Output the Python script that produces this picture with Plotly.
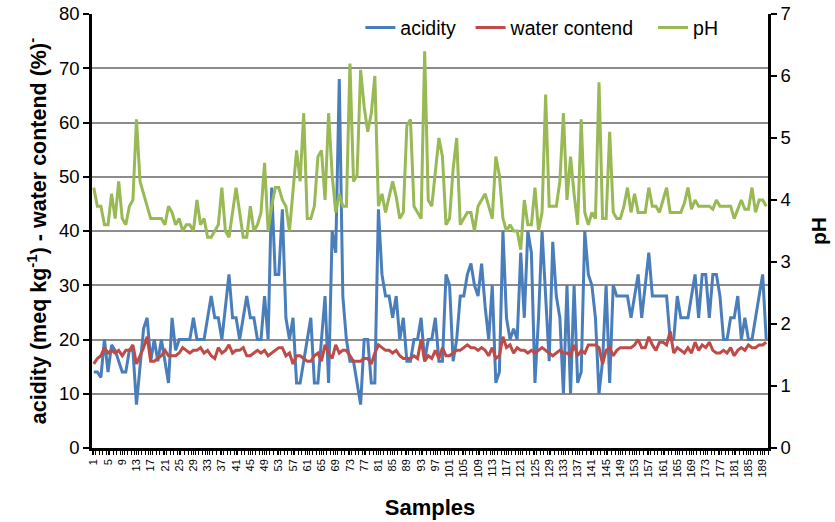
import plotly.graph_objects as go

samples = list(range(1, 191))

acidity = [14,14,13,20,14,19,18,16,14,14,18,18,8,15,22,24,16,20,16,20,16,12,24,18,20,20,20,20,24,20,20,20,
           24,28,24,24,20,26,32,24,24,20,24,28,24,24,20,20,28,20,48,32,32,44,24,20,24,12,12,16,20,24,12,
           12,20,28,12,40,36,68,28,20,16,16,12,8,20,20,12,12,44,32,28,28,24,28,20,24,16,16,20,20,24,16,
           20,20,24,16,16,32,30,16,20,28,28,32,34,30,28,34,26,20,30,12,14,40,24,20,22,20,36,24,40,36,12,24,40,
           28,16,38,28,24,10,30,10,30,12,14,40,32,30,24,10,16,30,12,30,28,28,28,28,24,28,32,24,30,36,28,
           28,28,28,28,20,20,28,24,24,24,28,32,24,32,32,24,32,32,28,20,20,24,24,28,20,24,20,20,24,28,32,20]

water = [15.5,16.5,17,18.5,17.5,18,17.5,18,17,18,18,19,15.5,17,18.5,20.5,16,16,16.5,17,18,17,17,17,17.5,18.5,18,17.5,18,18,18.5,17.5,
         18,17,16.5,18.5,17.5,18,19,17.5,18,18,18.5,17,17,17.5,18,17.5,18,17,17.5,18,18.5,18.5,17,17.5,15.5,17,17,16.5,16,16,17,
         17.5,16,19,17.5,16.5,19,17.5,18,18,17,16,16,16,16.5,16.5,15.5,17.5,19,18.5,18,18,17.5,18,17,16.5,16.5,16.5,17,16.5,20,16,17,
         16.5,18,16.5,18.5,17,17,17.5,18,18,18.5,19,18.5,18.5,18,18.5,18,17,18.5,16.5,17,20.5,18.5,19,17.5,18.5,18,18,17.5,18,17.5,18,18.5,
         18,17.5,17,17.5,18,17.5,17.5,17,19,17,18,17.5,19,19,19,18.5,15.5,18,18.5,17,18,18.5,18.5,18.5,18.5,19,20,18.5,18.5,20.5,19,18,
         19.5,19.5,19,21.5,17.5,18.5,18,17.5,18.5,17.5,19.5,18,19,18.5,19.5,18,17.5,17.5,18,17.5,18.5,17,18,18.5,18,19,18.5,18.5,19,19,19.5]

ph = [4.2,3.9,3.9,3.6,3.6,4.1,3.7,4.3,3.7,3.6,3.9,4.0,5.3,4.3,4.1,3.9,3.7,3.7,3.7,3.7,3.6,3.9,3.8,3.6,3.7,3.5,3.6,3.6,3.5,4.0,3.6,3.7,
      3.4,3.4,3.5,3.6,4.2,3.5,3.4,3.8,4.2,3.8,3.4,3.4,3.9,3.5,3.6,3.8,4.6,3.5,3.9,4.2,4.2,4.0,3.9,3.5,4.2,4.8,4.3,5.4,3.7,3.7,3.9,
      4.7,4.8,4.0,5.4,4.4,3.8,4.1,3.9,3.9,6.2,4.3,4.4,6.1,5.5,5.1,5.4,6.0,3.9,4.1,3.8,4.05,4.3,4.05,3.7,3.8,5.2,5.3,3.9,3.8,3.7,6.4,4.0,
      3.9,4.5,5.0,4.7,3.6,3.7,4.5,5.0,3.6,3.7,3.8,3.8,3.5,3.9,4.0,4.1,3.9,3.7,4.7,4.4,3.7,3.5,3.6,3.5,3.5,3.2,4.0,3.6,3.6,4.2,3.5,3.8,
      5.7,3.9,3.9,3.9,4.3,5.4,4.0,4.7,4.1,3.6,5.3,3.8,3.6,3.8,3.7,5.9,3.7,3.7,5.1,3.8,3.7,3.7,3.9,4.2,3.8,4.1,3.8,3.8,3.8,4.2,3.9,
      3.9,3.8,4.0,4.2,3.8,3.8,3.8,3.8,3.95,4.2,3.85,4.0,3.9,3.9,3.9,3.9,3.85,4.0,3.9,3.9,3.9,3.9,3.7,3.85,4.0,3.85,3.85,4.2,3.8,4.0,4.0,3.9]

x_tick_vals = list(range(1, 190, 4))
x_tick_labels = [str(v) for v in x_tick_vals]

FONT = "Arial, 'Liberation Sans', sans-serif"
LEG_FONT = dict(size=19.5, family=FONT, color="black")

fig = go.Figure()
fig.add_trace(go.Scatter(x=samples, y=acidity, mode="lines", name="acidity",
                         line=dict(color="#4A7EBB", width=3), legend="legend"))
fig.add_trace(go.Scatter(x=samples, y=water, mode="lines", name="water contend",
                         line=dict(color="#BE4B48", width=3), legend="legend2"))
fig.add_trace(go.Scatter(x=samples, y=ph, mode="lines", name="pH", yaxis="y2",
                         line=dict(color="#98B954", width=3), legend="legend3"))

def leg(xpos):
    return dict(orientation="h", x=xpos, xanchor="left", y=0.968, yanchor="middle",
                font=LEG_FONT, bgcolor="rgba(0,0,0,0)", itemwidth=30)

fig.update_layout(
    width=835, height=522,
    margin=dict(l=92, r=67, t=14, b=74, autoexpand=False),
    paper_bgcolor="white", plot_bgcolor="white",
    font=dict(family=FONT, color="black"),
    showlegend=True,
    legend=leg(0.397),
    legend2=leg(0.560),
    legend3=leg(0.830),
    xaxis=dict(range=[0.5, 190.5], tickmode="array", tickvals=x_tick_vals, ticktext=x_tick_labels,
               tickangle=-90, tickfont=dict(size=11), ticks="outside", ticklen=4, tickwidth=1,
               tickcolor="black", showline=True, linecolor="black", linewidth=2.5,
               minor=dict(ticks="outside", tick0=0.5, dtick=1, ticklen=4, tickwidth=1,
                          tickcolor="black", showgrid=False),
               showgrid=False, zeroline=False, automargin=False,
               title=dict(text="<b>Samples</b>", font=dict(size=22), standoff=24)),
    yaxis=dict(range=[0, 80], dtick=10, ticks="outside", ticklen=6, tickwidth=2,
               tickcolor="black", showline=True, linecolor="black", linewidth=2.5,
               tickfont=dict(size=18.5), showgrid=True, gridcolor="#8C8C8C", gridwidth=1.5,
               zeroline=False, automargin=False,
               title=dict(text="<b>acidity (meq kg<sup>-1</sup>) - water contend (%)<sup>-</sup></b>",
                          font=dict(size=21.5), standoff=7)),
    yaxis2=dict(range=[0, 7], dtick=1, overlaying="y", side="right", ticks="outside",
                ticklen=6, tickwidth=2, tickcolor="black", showline=True, linecolor="black",
                linewidth=2.5, tickfont=dict(size=18.5), showgrid=False, zeroline=False,
                automargin=False,
                title=dict(text="<b>pH</b>", font=dict(size=21), standoff=22)),
)

fig.write_html("out.html")
